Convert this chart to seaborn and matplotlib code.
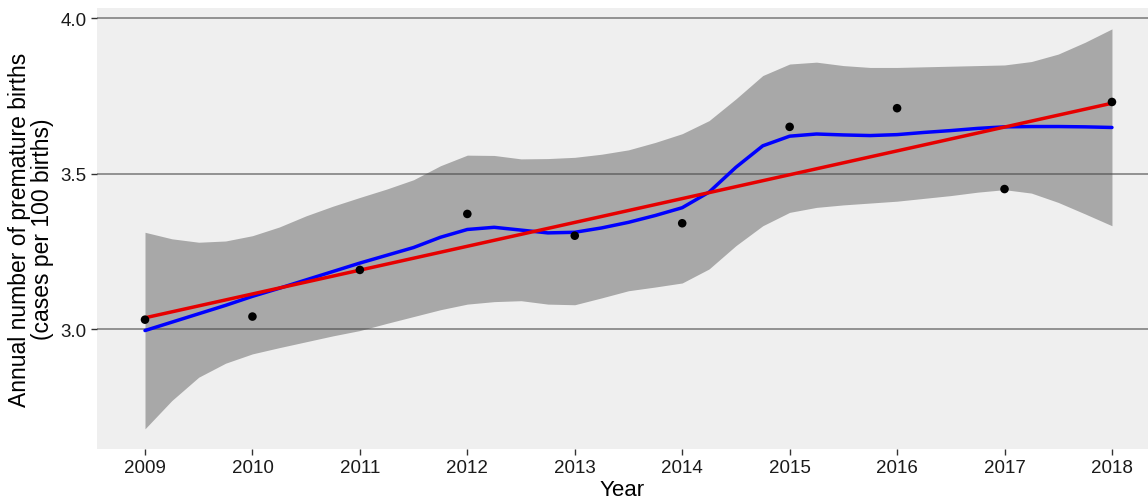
import numpy as np
import pandas as pd
import matplotlib
matplotlib.use("Agg")
import matplotlib.pyplot as plt
import seaborn as sns

# Observed annual values
years = [2009, 2010, 2011, 2012, 2013, 2014, 2015, 2016, 2017, 2018]
rate = [3.03, 3.04, 3.19, 3.37, 3.30, 3.34, 3.65, 3.71, 3.45, 3.73]

# Smooth curve and its confidence band
smooth_x = [2009.00, 2009.25, 2009.50, 2009.75, 2010.00, 2010.25, 2010.50, 2010.75,
            2011.00, 2011.25, 2011.50, 2011.75, 2012.00, 2012.25, 2012.50, 2012.75,
            2013.00, 2013.25, 2013.50, 2013.75, 2014.00, 2014.25, 2014.50, 2014.75,
            2015.00, 2015.25, 2015.50, 2015.75, 2016.00, 2016.25, 2016.50, 2016.75,
            2017.00, 2017.25, 2017.50, 2017.75, 2018.00]
smooth_y = [2.995, 3.022, 3.049, 3.076, 3.105, 3.131, 3.158, 3.185,
            3.212, 3.237, 3.262, 3.295, 3.320, 3.327, 3.318, 3.309,
            3.311, 3.325, 3.343, 3.365, 3.390, 3.440, 3.520, 3.589,
            3.620, 3.627, 3.624, 3.622, 3.625, 3.632, 3.638, 3.645,
            3.650, 3.651, 3.651, 3.650, 3.648]
band_hi = [3.311, 3.290, 3.279, 3.283, 3.300, 3.328, 3.364, 3.395,
           3.423, 3.450, 3.480, 3.525, 3.559, 3.558, 3.547, 3.548,
           3.552, 3.562, 3.576, 3.600, 3.628, 3.670, 3.740, 3.815,
           3.852, 3.858, 3.847, 3.841, 3.841, 3.843, 3.845, 3.847,
           3.849, 3.860, 3.884, 3.922, 3.965]
band_lo = [2.679, 2.770, 2.845, 2.890, 2.920, 2.940, 2.959, 2.978,
           2.995, 3.018, 3.040, 3.062, 3.080, 3.088, 3.091, 3.080,
           3.078, 3.100, 3.123, 3.135, 3.148, 3.193, 3.268, 3.332,
           3.375, 3.391, 3.399, 3.405, 3.411, 3.420, 3.429, 3.440,
           3.448, 3.437, 3.407, 3.370, 3.332]

y_ticks = [3.0, 3.5, 4.0]
y_tick_labels = ["3.0", "3.5", "4.0"]

sns.set_theme(style="white")
plt.rcParams['font.family'] = ['Liberation Sans', 'DejaVu Sans']

df = pd.DataFrame({"Year": years, "Rate": rate})
sm = pd.DataFrame({"x": smooth_x, "y": smooth_y, "lo": band_lo, "hi": band_hi})

fig = plt.figure(figsize=(11.48, 5.02), dpi=100)
W, H = 1148, 502
ax = fig.add_axes([97 / W, (H - 450) / H, (W - 97) / W, 441 / H])
ax.set_facecolor("#efefef")
ax.set_axisbelow(True)

ax.fill_between(sm["x"], sm["lo"], sm["hi"], color="#474747", alpha=0.42,
                linewidth=0, zorder=2)
sns.lineplot(data=sm, x="x", y="y", ax=ax, color="#0000ff", linewidth=2.5,
             zorder=3, sort=True)
sns.regplot(data=df, x="Year", y="Rate", ax=ax, scatter=False, ci=None,
            color="#e60000", line_kws={"linewidth": 2.5, "zorder": 4})
sns.scatterplot(data=df, x="Year", y="Rate", ax=ax, color="black", s=38,
                edgecolor="none", zorder=5)

px_per_year = 107.44
ax.set_xlim(2009 - 48 / px_per_year, 2009 + (W - 145) / px_per_year)
ax.set_ylim(4.0 - 431 / 311, 4.0 + 10 / 311)

ax.set_xticks(years)
ax.set_xticklabels([str(y) for y in years])
ax.set_yticks(y_ticks)
ax.set_yticklabels(y_tick_labels)

ax.grid(False)
ax.yaxis.grid(True, color="#8a8a8a", linewidth=1.3)
for s in ax.spines.values():
    s.set_visible(False)

ax.tick_params(axis="both", which="major", length=4.5, width=1.0, color="#333333",
               labelsize=13.5, labelcolor="#1a1a1a", pad=3, bottom=True, left=True)

ax.set_xlabel("Year", fontsize=16, color="black", labelpad=2)
ax.set_ylabel("Annual number of premature births\n(cases per 100 births)",
              fontsize=16.5, color="black", labelpad=5, linespacing=0.95)

fig.savefig("out.png", dpi=100)
